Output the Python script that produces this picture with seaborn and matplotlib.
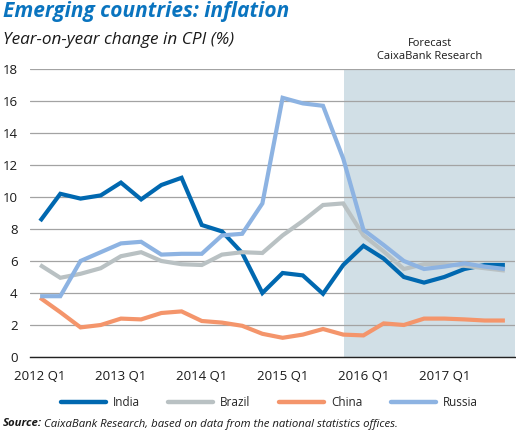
import matplotlib.pyplot as plt
import seaborn as sns
import pandas as pd
import numpy as np

# Quarterly data, 2012 Q1 - 2017 Q4
quarters = [f'{y} Q{q}' for y in range(2012, 2018) for q in range(1, 5)]
india = [8.5, 10.2, 9.9, 10.1, 10.9, 9.85, 10.75, 11.2,
         8.25, 7.85, 6.5, 4.0, 5.25, 5.1, 3.95, 5.75,
         6.95, 6.15, 5.0, 4.65, 5.0, 5.5, 5.75, 5.75]
brazil = [5.75, 4.95, 5.2, 5.55, 6.3, 6.55, 6.0, 5.8,
          5.75, 6.4, 6.55, 6.5, 7.6, 8.5, 9.5, 9.6,
          7.6, 6.6, 5.5, 5.8, 5.8, 5.7, 5.55, 5.4]
china = [3.7, 2.8, 1.85, 2.0, 2.4, 2.35, 2.75, 2.85,
         2.25, 2.15, 1.95, 1.45, 1.2, 1.4, 1.75, 1.4,
         1.35, 2.1, 2.0, 2.4, 2.4, 2.35, 2.28, 2.28]
russia = [3.8, 3.8, 6.0, 6.55, 7.1, 7.2, 6.4, 6.45,
          6.45, 7.6, 7.7, 9.6, 16.2, 15.85, 15.7, 12.4,
          7.95, 7.0, 6.0, 5.5, 5.65, 5.85, 5.65, 5.5]
countries = ['India', 'Brazil', 'China', 'Russia']
colors = ['#0068b0', '#b9c1c3', '#f4956b', '#8db3e2']
forecast_start = 15.05

df = pd.DataFrame({'idx': np.arange(len(quarters)), 'India': india, 'Brazil': brazil,
                   'China': china, 'Russia': russia})
df = df.melt(id_vars='idx', var_name='Country', value_name='Value')

sns.set_style('white')
plt.rcParams['font.family'] = ['Open Sans', 'DejaVu Sans']

fig = plt.figure(figsize=(5.16, 4.33), dpi=100)
ax = fig.add_axes([30 / 516, 1 - 357 / 433, 485 / 516, 288 / 433])

ax.axvspan(forecast_start, 23.5, color='#d1dfe6', zorder=0, lw=0)
sns.lineplot(data=df, x='idx', y='Value', hue='Country', hue_order=countries,
             palette=colors, linewidth=3.0, ax=ax, legend=True, zorder=3)
for line in ax.lines:
    line.set_solid_capstyle('butt')
    line.set_solid_joinstyle('miter')

ax.set_xlim(-0.5, 23.5)
ax.set_ylim(0, 18)
ax.set_yticks(np.arange(0, 19, 2))
ax.yaxis.grid(True, color='#a3a3a3', lw=0.9)
ax.set_axisbelow(True)
ax.set_xlabel('')
ax.set_ylabel('')

for s in ['top', 'right', 'left']:
    ax.spines[s].set_visible(False)
ax.spines['bottom'].set_color('#222222')
ax.spines['bottom'].set_linewidth(1.0)

ax.set_xticks(np.arange(-0.5, 24, 4).tolist() + [23.5])
ax.set_xticklabels([])
ax.tick_params(axis='x', which='major', direction='in', length=3.5, width=1, color='#222222')
ax.set_xticks(np.arange(0, 24, 4), minor=True)
ax.set_xticklabels(quarters[::4], minor=True)
ax.tick_params(axis='x', which='minor', length=0, pad=9, labelsize=9.5, labelcolor='#1a1a1a')
ax.tick_params(axis='y', length=0, pad=9, labelsize=9.5, labelcolor='#1a1a1a')

handles, labels = ax.get_legend_handles_labels()
ax.get_legend().remove()
for h in handles:
    h.set_linewidth(3.2)
    h.set_solid_capstyle('round')
fig.legend(handles, labels, loc='center', bbox_to_anchor=(0.522, 1 - 403 / 433), ncol=4,
           frameon=False, fontsize=8.5, handlelength=3.8, columnspacing=2.4, handletextpad=0.6)

fig.text(3 / 516, 1 - 12 / 433, 'Emerging countries: inflation', fontsize=15,
         fontweight='bold', fontstyle='italic', color='#0a74bf', va='center', ha='left')
fig.text(3 / 516, 1 - 40 / 433, 'Year-on-year change in CPI (%)', fontsize=12.3,
         fontstyle='italic', color='#1a1a1a', va='center', ha='left')
fig.text(430 / 516, 1 - 50 / 433, 'Forecast\nCaixaBank Research', fontsize=8,
         color='#1a1a1a', va='center', ha='center', linespacing=1.3)
fig.text(3 / 516, 1 - 424 / 433, 'Source:', fontsize=8.2, fontweight='bold',
         fontstyle='italic', color='#1a1a1a', va='center', ha='left')
fig.text(44 / 516, 1 - 424 / 433,
         'CaixaBank Research, based on data from the national statistics offices.',
         fontsize=8.2, fontstyle='italic', color='#1a1a1a', va='center', ha='left')

fig.savefig('out.png', dpi=100)
